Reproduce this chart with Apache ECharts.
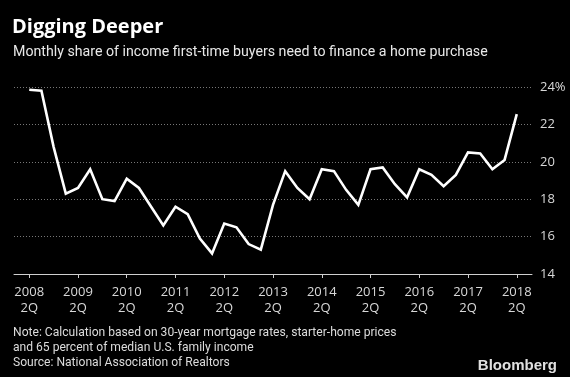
<!DOCTYPE html>
<html><head><meta charset="utf-8">
<script src="https://cdn.jsdelivr.net/npm/echarts@6/dist/echarts.min.js"></script>
<style>html,body{margin:0;padding:0;background:#000}#c{width:570px;height:377px}</style>
</head><body><div id="c"></div>
<script>
const quarters = [
  '2008 2Q','2008 3Q','2008 4Q',
  '2009 1Q','2009 2Q','2009 3Q','2009 4Q',
  '2010 1Q','2010 2Q','2010 3Q','2010 4Q',
  '2011 1Q','2011 2Q','2011 3Q','2011 4Q',
  '2012 1Q','2012 2Q','2012 3Q','2012 4Q',
  '2013 1Q','2013 2Q','2013 3Q','2013 4Q',
  '2014 1Q','2014 2Q','2014 3Q','2014 4Q',
  '2015 1Q','2015 2Q','2015 3Q','2015 4Q',
  '2016 1Q','2016 2Q','2016 3Q','2016 4Q',
  '2017 1Q','2017 2Q','2017 3Q','2017 4Q',
  '2018 1Q','2018 2Q'
];
const share = [
  23.85, 23.8, 20.8,
  18.3, 18.6, 19.6, 18.0,
  17.9, 19.1, 18.6, 17.6,
  16.6, 17.6, 17.2, 15.9,
  15.1, 16.7, 16.5, 15.6,
  15.3, 17.7, 19.5, 18.6,
  18.0, 19.6, 19.5, 18.5,
  17.7, 19.6, 19.7, 18.8,
  18.1, 19.6, 19.3, 18.7,
  19.3, 20.5, 20.45, 19.6,
  20.1, 22.55
];
const tickYears = ['2008','2009','2010','2011','2012','2013','2014','2015','2016','2017','2018'];
const tickQuarter = '2Q';
const yTicks = [14, 16, 18, 20, 22, 24];

const FONT = '"Open Sans", "Noto Sans", sans-serif';
const TEXTFONT = 'Roboto, "Open Sans", sans-serif';
const tickIdx = tickYears.map((y, i) => quarters.indexOf(y + ' ' + tickQuarter));

const chart = echarts.init(document.getElementById('c'), null, {renderer: 'canvas'});
chart.setOption({
  backgroundColor: '#000',
  animation: false,
  title: [
    {text: 'Digging Deeper', left: 12, top: 17, padding: 0,
     textStyle: {color: '#fff', fontSize: 20, fontWeight: 'bold', fontFamily: FONT}},
    {text: 'Monthly share of income first-time buyers need to finance a home purchase', left: 13, top: 45, padding: 0,
     textStyle: {color: '#e8e8e8', fontSize: 14.2, fontWeight: 'normal', fontFamily: TEXTFONT}},
    {text: 'Note: Calculation based on 30-year mortgage rates, starter-home prices\nand 65 percent of median U.S. family income\nSource: National Association of Realtors',
     left: 13, top: 325, padding: 0,
     textStyle: {color: '#dcdcdc', fontSize: 12.1, fontWeight: 'normal', lineHeight: 15, fontFamily: TEXTFONT}},
    {text: 'Bloomberg', right: 13, top: 358, padding: 0,
     textStyle: {color: '#e0e0e0', fontSize: 15, fontWeight: 'bold', fontFamily: 'Liberation Sans, Arial, sans-serif'}}
  ],
  grid: {left: 14, right: 38, top: 87, bottom: 103, containLabel: false},
  xAxis: {
    type: 'value', min: -1.25, max: quarters.length - 1 + 1.25,
    axisLine: {show: true, lineStyle: {color: '#cfcfcf', width: 1}},
    axisTick: {show: true, customValues: tickIdx, length: 4, lineStyle: {color: '#cfcfcf'}},
    axisLabel: {show: true, customValues: tickIdx, color: '#d8d8d8', fontSize: 13, fontFamily: FONT, lineHeight: 16, margin: 10,
      formatter: v => { const i = tickIdx.indexOf(v); return i < 0 ? '' : tickYears[i] + '\n' + tickQuarter; }},
    splitLine: {show: false}
  },
  yAxis: {
    type: 'value', position: 'right', min: yTicks[0], max: yTicks[yTicks.length - 1], interval: 2,
    axisLine: {show: false}, axisTick: {show: false},
    axisLabel: {color: '#d8d8d8', fontSize: 13, fontFamily: FONT, margin: 8,
      formatter: v => v === yTicks[yTicks.length - 1] ? v + '%' : String(v)},
    splitLine: {show: true, lineStyle: {color: '#777', type: [1, 2], width: 1}}
  },
  series: [{
    type: 'line', data: share.map((v, i) => [i, v]), showSymbol: false, symbol: 'none',
    lineStyle: {color: '#fff', width: 2.6, join: 'miter'}, itemStyle: {color: '#fff'}
  }]
});
</script></body></html>
